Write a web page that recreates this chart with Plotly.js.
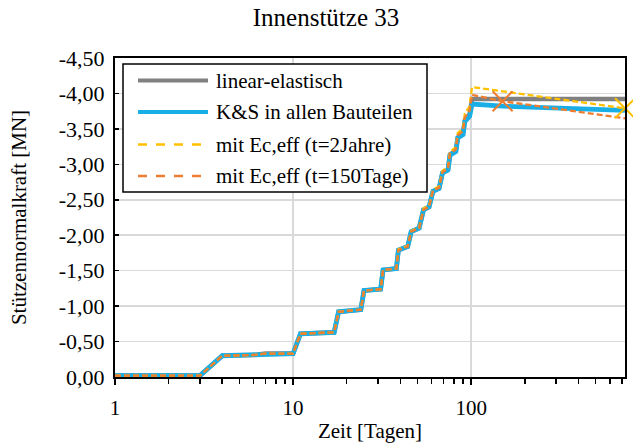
<!DOCTYPE html>
<html>
<head>
<meta charset="utf-8">
<script src="https://cdn.plot.ly/plotly-3.0.1.min.js"></script>
<style>
  html, body { margin: 0; padding: 0; background: #fff; }
  #chart { width: 633px; height: 443px; }
</style>
</head>
<body>
<div id="chart"></div>
<script>
// Zeitpunkte (Tage) der Auswertung
const days = [1, 3, 4, 6, 7, 10, 11, 17, 18, 24, 25, 31, 32, 38, 39, 44, 46, 51, 54, 58,
              61, 66, 69, 74, 76, 82, 84, 90, 92, 98, 101, 150, 730];

// Stützennormalkraft [MN]
const linearElastisch = [-0.02, -0.02, -0.30, -0.31, -0.33, -0.33, -0.61, -0.63, -0.92, -0.95,
  -1.22, -1.24, -1.51, -1.53, -1.79, -1.84, -2.05, -2.10, -2.36, -2.40,
  -2.62, -2.66, -2.88, -2.92, -3.14, -3.19, -3.38, -3.44, -3.62, -3.71, -3.92, -3.92, -3.92];

const kusAlleBauteile = [-0.02, -0.02, -0.30, -0.31, -0.33, -0.33, -0.61, -0.63, -0.92, -0.95,
  -1.22, -1.24, -1.51, -1.53, -1.79, -1.84, -2.05, -2.10, -2.36, -2.40,
  -2.62, -2.66, -2.88, -2.92, -3.13, -3.18, -3.37, -3.42, -3.60, -3.68, -3.85, -3.82, -3.76];

const ecEff2Jahre = [-0.02, -0.02, -0.30, -0.31, -0.33, -0.33, -0.61, -0.63, -0.92, -0.95,
  -1.22, -1.24, -1.51, -1.53, -1.80, -1.85, -2.06, -2.11, -2.38, -2.42,
  -2.64, -2.69, -2.91, -2.96, -3.18, -3.24, -3.44, -3.51, -3.71, -3.82, -4.09, -4.03, -3.79];

const ecEff150Tage = [-0.02, -0.02, -0.30, -0.31, -0.33, -0.33, -0.61, -0.63, -0.92, -0.95,
  -1.22, -1.24, -1.51, -1.53, -1.79, -1.84, -2.05, -2.10, -2.36, -2.40,
  -2.63, -2.67, -2.89, -2.94, -3.15, -3.21, -3.41, -3.47, -3.66, -3.76, -3.98, -3.89, -3.65];

const seriesNames = ['linear-elastisch', 'K&S in allen Bauteilen',
                     'mit Ec,eff (t=2Jahre)', 'mit Ec,eff (t=150Tage)'];

// Achsbeschriftungen
const xTickVals = [1, 10, 100];
const xTickText = ['1', '10', '100'];
const yTickVals = [0, -0.5, -1.0, -1.5, -2.0, -2.5, -3.0, -3.5, -4.0, -4.5];
const yTickText = ['0,00', '-0,50', '-1,00', '-1,50', '-2,00', '-2,50', '-3,00', '-3,50', '-4,00', '-4,50'];

// Kreuzmarken: 150 Tage und 2 Jahre
const markDay150 = 150;
const markDay2J = 730;

const colGray = '#808080', colBlue = '#19AEE6', colYellow = '#FFC000', colOrange = '#ED7D31';
const dashStyle = '6px,3px';
const serif = 'Liberation Serif, Times New Roman, serif';

// Nebenstriche der logarithmischen x-Achse
const minorVals = [];
for (const dec of [1, 10, 100]) {
  for (let k = 2; k <= 9; k++) {
    if (k * dec < 730) minorVals.push(k * dec);
  }
}

const i150 = days.indexOf(markDay150);
const i730 = days.indexOf(markDay2J);

const traces = [
  { x: days, y: linearElastisch, name: seriesNames[0], mode: 'lines',
    line: { color: colGray, width: 4.5 } },
  { x: days, y: kusAlleBauteile, name: seriesNames[1], mode: 'lines',
    line: { color: colBlue, width: 4.8 } },
  { x: days, y: ecEff2Jahre, name: seriesNames[2], mode: 'lines',
    line: { color: colYellow, width: 2.3, dash: dashStyle } },
  { x: days, y: ecEff150Tage, name: seriesNames[3], mode: 'lines',
    line: { color: colOrange, width: 2.3, dash: dashStyle } },
  { x: [days[i150]], y: [ecEff150Tage[i150]], mode: 'markers', cliponaxis: false,
    marker: { symbol: 'x-thin', size: 20, line: { color: colOrange, width: 2 } } },
  { x: [days[i730]], y: [ecEff2Jahre[i730]], mode: 'markers', cliponaxis: false,
    marker: { symbol: 'x-thin', size: 20, line: { color: colYellow, width: 2 } } }
];

// Plotbereich in Pixeln (für die Legende in Papierkoordinaten)
const W = 633, H = 443;
const M = { l: 115, r: 8, t: 58, b: 66 };
const pw = W - M.l - M.r, ph = H - M.t - M.b;
const px = v => (v - M.l) / pw;
const py = v => (H - M.b - v) / ph;

const legRows = [80.5, 112, 144.5, 176];
const legStyles = [
  { color: colGray, width: 4 },
  { color: colBlue, width: 4 },
  { color: colYellow, width: 2.3, dash: 'dash' },
  { color: colOrange, width: 2.3, dash: 'dash' }
];

const shapes = [{
  type: 'rect', xref: 'paper', yref: 'paper', layer: 'above',
  x0: px(123), x1: px(427), y0: py(192), y1: py(64),
  fillcolor: '#ffffff', line: { color: '#000000', width: 1.5 }
}];
const annotations = [];
seriesNames.forEach((name, i) => {
  shapes.push({
    type: 'line', xref: 'paper', yref: 'paper', layer: 'above',
    x0: px(138), x1: px(208), y0: py(legRows[i]), y1: py(legRows[i]),
    line: legStyles[i]
  });
  annotations.push({
    text: name, xref: 'paper', yref: 'paper', x: px(214), y: py(legRows[i]),
    xanchor: 'left', yanchor: 'middle', showarrow: false,
    font: { family: serif, size: 21, color: '#000' }
  });
});

const layout = {
  width: W, height: H,
  margin: M,
  paper_bgcolor: '#ffffff', plot_bgcolor: '#ffffff',
  font: { family: serif, color: '#000', size: 21 },
  showlegend: false,
  separators: ',.',
  title: {
    text: 'Innenstütze 33', font: { family: serif, size: 25, color: '#000' },
    xref: 'container', x: 326 / W, xanchor: 'center',
    yref: 'container', y: 1 - 17 / H, yanchor: 'middle'
  },
  xaxis: {
    type: 'log', range: [0, Math.log10(730)],
    tickmode: 'array', tickvals: xTickVals, ticktext: xTickText,
    ticks: 'outside', ticklen: 6, tickwidth: 2, tickcolor: '#000',
    ticklabelstandoff: 5,
    showline: true, linecolor: '#000', linewidth: 2, mirror: true,
    showgrid: true, gridcolor: '#d9d9d9', gridwidth: 1.5, zeroline: false,
    tickfont: { family: serif, size: 21 },
    minor: { tickmode: 'array', tickvals: minorVals, ticks: 'outside', ticklen: 5,
             tickwidth: 1.5, tickcolor: '#000', showgrid: false },
    title: { text: 'Zeit [Tagen]', font: { family: serif, size: 21 }, standoff: 10 }
  },
  yaxis: {
    range: [0, -4.5],
    tickmode: 'array', tickvals: yTickVals, ticktext: yTickText,
    ticks: 'inside', ticklen: 4, tickwidth: 1.5, tickcolor: '#000',
    ticklabelstandoff: 4,
    showline: true, linecolor: '#000', linewidth: 2, mirror: true,
    showgrid: true, gridcolor: '#d9d9d9', gridwidth: 1.5, zeroline: false,
    tickfont: { family: serif, size: 22 },
    title: { text: 'Stützennormalkraft [MN]', font: { family: serif, size: 21 }, standoff: 26 }
  },
  shapes: shapes,
  annotations: annotations
};

Plotly.newPlot('chart', traces, layout, { displayModeBar: false, staticPlot: true });
</script>
</body>
</html>
